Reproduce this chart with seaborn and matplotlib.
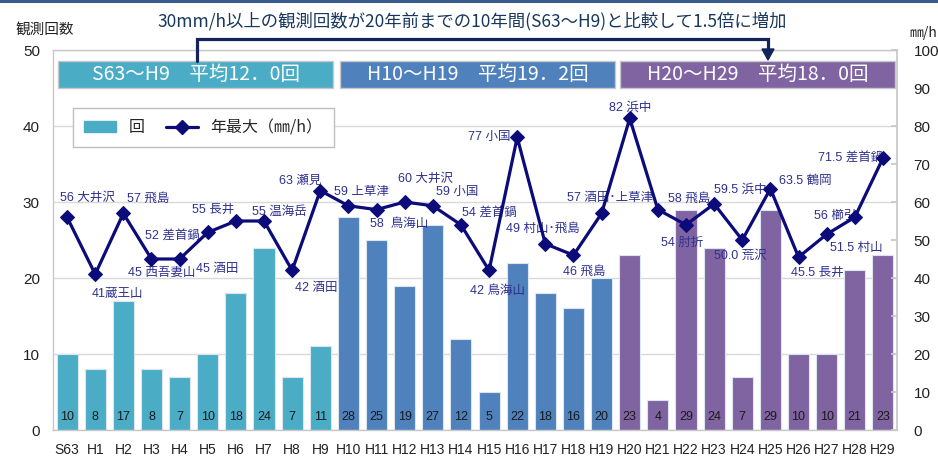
import matplotlib
matplotlib.use("Agg")
import matplotlib.pyplot as plt
import seaborn as sns
import numpy as np
import pandas as pd
from matplotlib.patches import Rectangle
from matplotlib.lines import Line2D
from matplotlib.ticker import FixedLocator

# ---------------- data ----------------
categories = ["S63", "H1", "H2", "H3", "H4", "H5", "H6", "H7", "H8", "H9",
              "H10", "H11", "H12", "H13", "H14", "H15", "H16", "H17", "H18", "H19",
              "H20", "H21", "H22", "H23", "H24", "H25", "H26", "H27", "H28", "H29"]
counts = [10, 8, 17, 8, 7, 10, 18, 24, 7, 11,
          28, 25, 19, 27, 12, 5, 22, 18, 16, 20,
          23, 4, 29, 24, 7, 29, 10, 10, 21, 23]
annual_max = [56, 41, 57, 45, 45, 52, 55, 55, 42, 63,
              59, 58, 60, 59, 54, 42, 77, 49, 46, 57,
              82, 58, 54, 59.5, 50.0, 63.5, 45.5, 51.5, 56, 71.5]
groups = ["S63～H9"] * 10 + ["H10～H19"] * 10 + ["H20～H29"] * 10
point_labels = ["56 大井沢", "41蔵王山", "57 飛島", "45 西吾妻山", "45 酒田",
                "52 差首鍋", "55 長井", "55 温海岳", "42 酒田", "63 瀬見",
                "59 上草津", "58  鳥海山", "60 大井沢", "59 小国", "54 差首鍋",
                "42 鳥海山", "77 小国", "49 村山･飛島", "46 飛島", "57 酒田･上草津",
                "82 浜中", "58 飛島", "54 肘折", "59.5 浜中", "50.0 荒沢",
                "63.5 鶴岡", "45.5 長井", "51.5 村山", "56 櫛引", "71.5 差首鍋"]
period_titles = ["S63～H9　平均12．0回", "H10～H19　平均19．2回", "H20～H29　平均18．0回"]
title_text = "30mm/h以上の観測回数が20年前までの10年間(S63～H9)と比較して1.5倍に増加"

# ---------------- style ----------------
c_teal, c_blue, c_purple = "#4BACC6", "#4F81BD", "#8064A2"
palette = {"S63～H9": c_teal, "H10～H19": c_blue, "H20～H29": c_purple}
navy = "#0B0B7A"
lab_col = "#2E318F"

sns.set_theme(style="white")
plt.rcParams["font.family"] = ["Liberation Sans", "Noto Sans CJK JP", "DejaVu Sans"]
CJK = ["Noto Sans CJK JP", "DejaVu Sans"]

W, H = 938, 462
fig = plt.figure(figsize=(W / 100, H / 100), dpi=100)
ax = fig.add_axes([53 / W, 1 - 430 / H, (897 - 53) / W, (430 - 50) / H])

df = pd.DataFrame({"cat": categories, "count": counts, "group": groups})
sns.barplot(data=df, x="cat", y="count", hue="group", palette=palette, order=categories,
            dodge=False, width=0.75, saturation=1, edgecolor="#DCE4EE", linewidth=0.8,
            legend=False, ax=ax, zorder=2)

ax.set_xlim(-0.5, len(categories) - 0.5)
ax.set_ylim(0, 50)
ax.set_yticks(np.arange(0, 51, 10))
ax.set_xlabel("")
ax.set_ylabel("")
ax.grid(axis="y", color="#D9D9D9", linewidth=1, zorder=0)
ax.grid(axis="x", visible=False)
ax.set_axisbelow(True)
for s in ["left", "bottom", "top"]:
    ax.spines[s].set_color("#C8C8C8")
    ax.spines[s].set_linewidth(1)
ax.spines["right"].set_visible(False)
ax.tick_params(axis="y", length=0, pad=9.4, labelsize=11, labelcolor="#222222")
ax.tick_params(axis="x", which="major", length=0, pad=9, labelsize=10, labelcolor="#222222")
ax.xaxis.set_minor_locator(FixedLocator(np.arange(-0.5, len(categories), 1)))
ax.tick_params(axis="x", which="minor", length=3, color="#C8C8C8", direction="out")

# count labels inside bars
for i, c in enumerate(counts):
    ax.annotate(str(c), (i, 0), xytext=(0, 12.5), textcoords="offset pixels",
                ha="center", va="center", fontsize=9, color="#1A1A1A", zorder=5)

# ---------------- line on right axis ----------------
ax2 = ax.twinx()
xs = np.arange(len(categories))
sns.lineplot(x=xs, y=annual_max, ax=ax2, color=navy, linewidth=2.3, marker="D",
             markersize=7.5, markeredgecolor=navy, markerfacecolor=navy, zorder=4)
ax2.set_xlim(-0.5, len(categories) - 0.5)
ax2.set_ylim(0, 100)
ax2.set_yticks(np.arange(0, 101, 10))
ax2.set_ylabel("")
ax2.grid(False)
for s in ["left", "bottom", "top"]:
    ax2.spines[s].set_visible(False)
ax2.spines["right"].set_color("#C8C8C8")
ax2.tick_params(axis="y", direction="in", length=4, color="#C8C8C8", pad=12,
                labelsize=11, labelcolor="#222222")
for lab in ax2.get_yticklabels():
    lab.set_horizontalalignment("left")

offsets = [(20, 19), (22, -20), (25, 15), (10, -14), (38, -10),
           (-35, -3), (-23, 11), (15, 9), (24, -18), (-20, 10),
           (13, 14), (23, -14), (21, 23), (24, 14), (29, 12),
           (8, -21), (-28, 0), (-2, 15), (11, -17), (8, 15),
           (0, 11), (31, 11), (-4, -18), (26, 14), (-2, -16),
           (35, 8), (19, -16), (30, -14), (-20, 1), (-32, 1)]
for i, (t, (dx, dy)) in enumerate(zip(point_labels, offsets)):
    ax2.annotate(t, (i, annual_max[i]), xytext=(dx, dy), textcoords="offset pixels",
                 ha="center", va="center", fontsize=9, color=lab_col, zorder=2)

# ---------------- period header boxes ----------------
box_x = [(58, 333), (340, 615), (620, 895)]
box_cols = [c_teal, c_blue, c_purple]
for (x0, x1), col, t in zip(box_x, box_cols, period_titles):
    fx0, fx1 = (x0 - 53) / 844, (x1 - 53) / 844
    fy0, fy1 = (430 - 88) / 380, (430 - 61) / 380
    ax2.add_patch(Rectangle((fx0, fy0), fx1 - fx0, fy1 - fy0, transform=ax2.transAxes,
                            facecolor=col, edgecolor="#C8C8C8", linewidth=1, zorder=6,
                            clip_on=False))
    ax2.text((fx0 + fx1) / 2, (fy0 + fy1) / 2, t, transform=ax2.transAxes, ha="center",
             va="center", fontsize=14, color="white", family=CJK, zorder=7)

# ---------------- legend ----------------
handles = [Rectangle((0, 0), 1, 1, facecolor=c_teal, edgecolor=c_teal),
           Line2D([0], [0], color=navy, linewidth=2.3, marker="D", markersize=7.5)]
leg = ax2.legend(handles, ["回", "年最大（㎜/h）"], loc="upper left",
                 bbox_to_anchor=((73 - 53) / 844, (430 - 108) / 380), ncol=2,
                 frameon=True, fancybox=False, edgecolor="#BFBFBF", framealpha=1,
                 prop={"family": CJK, "size": 11.5}, handlelength=2.0, handleheight=0.6,
                 columnspacing=1.3, handletextpad=0.8, borderpad=0.7, borderaxespad=0)
leg.get_frame().set_linewidth(1)
leg.set_zorder(8)

# ---------------- figure-level decorations ----------------
def fx(px):
    return px / W

def fy(py):
    return 1 - py / H

fig.add_artist(Rectangle((0, fy(3)), 1, 3 / H, transform=fig.transFigure,
                         facecolor="#3B5B8F", edgecolor="none"))
fig.text(fx(472), fy(21), title_text, ha="center", va="center", fontsize=12.5,
         color="#17375E", family=CJK)
fig.text(fx(45), fy(30), "観測回数", ha="center", va="center", fontsize=10.5,
         color="#222222", family=CJK)
fig.text(fx(923), fy(33), "㎜/h", ha="center", va="center", fontsize=10,
         color="#222222", family=CJK)

br_col = "#14245A"
fig.add_artist(Line2D([fx(197), fx(197), fx(768), fx(768)],
                      [fy(61), fy(39), fy(39), fy(50)], transform=fig.transFigure,
                      color=br_col, linewidth=2.3, solid_joinstyle="miter"))
fig.add_artist(plt.Polygon([[fx(762), fy(49)], [fx(774), fy(49)], [fx(768), fy(60)]],
                           closed=True, transform=fig.transFigure, facecolor=br_col,
                           edgecolor=br_col))

fig.savefig("out.png", dpi=100)
